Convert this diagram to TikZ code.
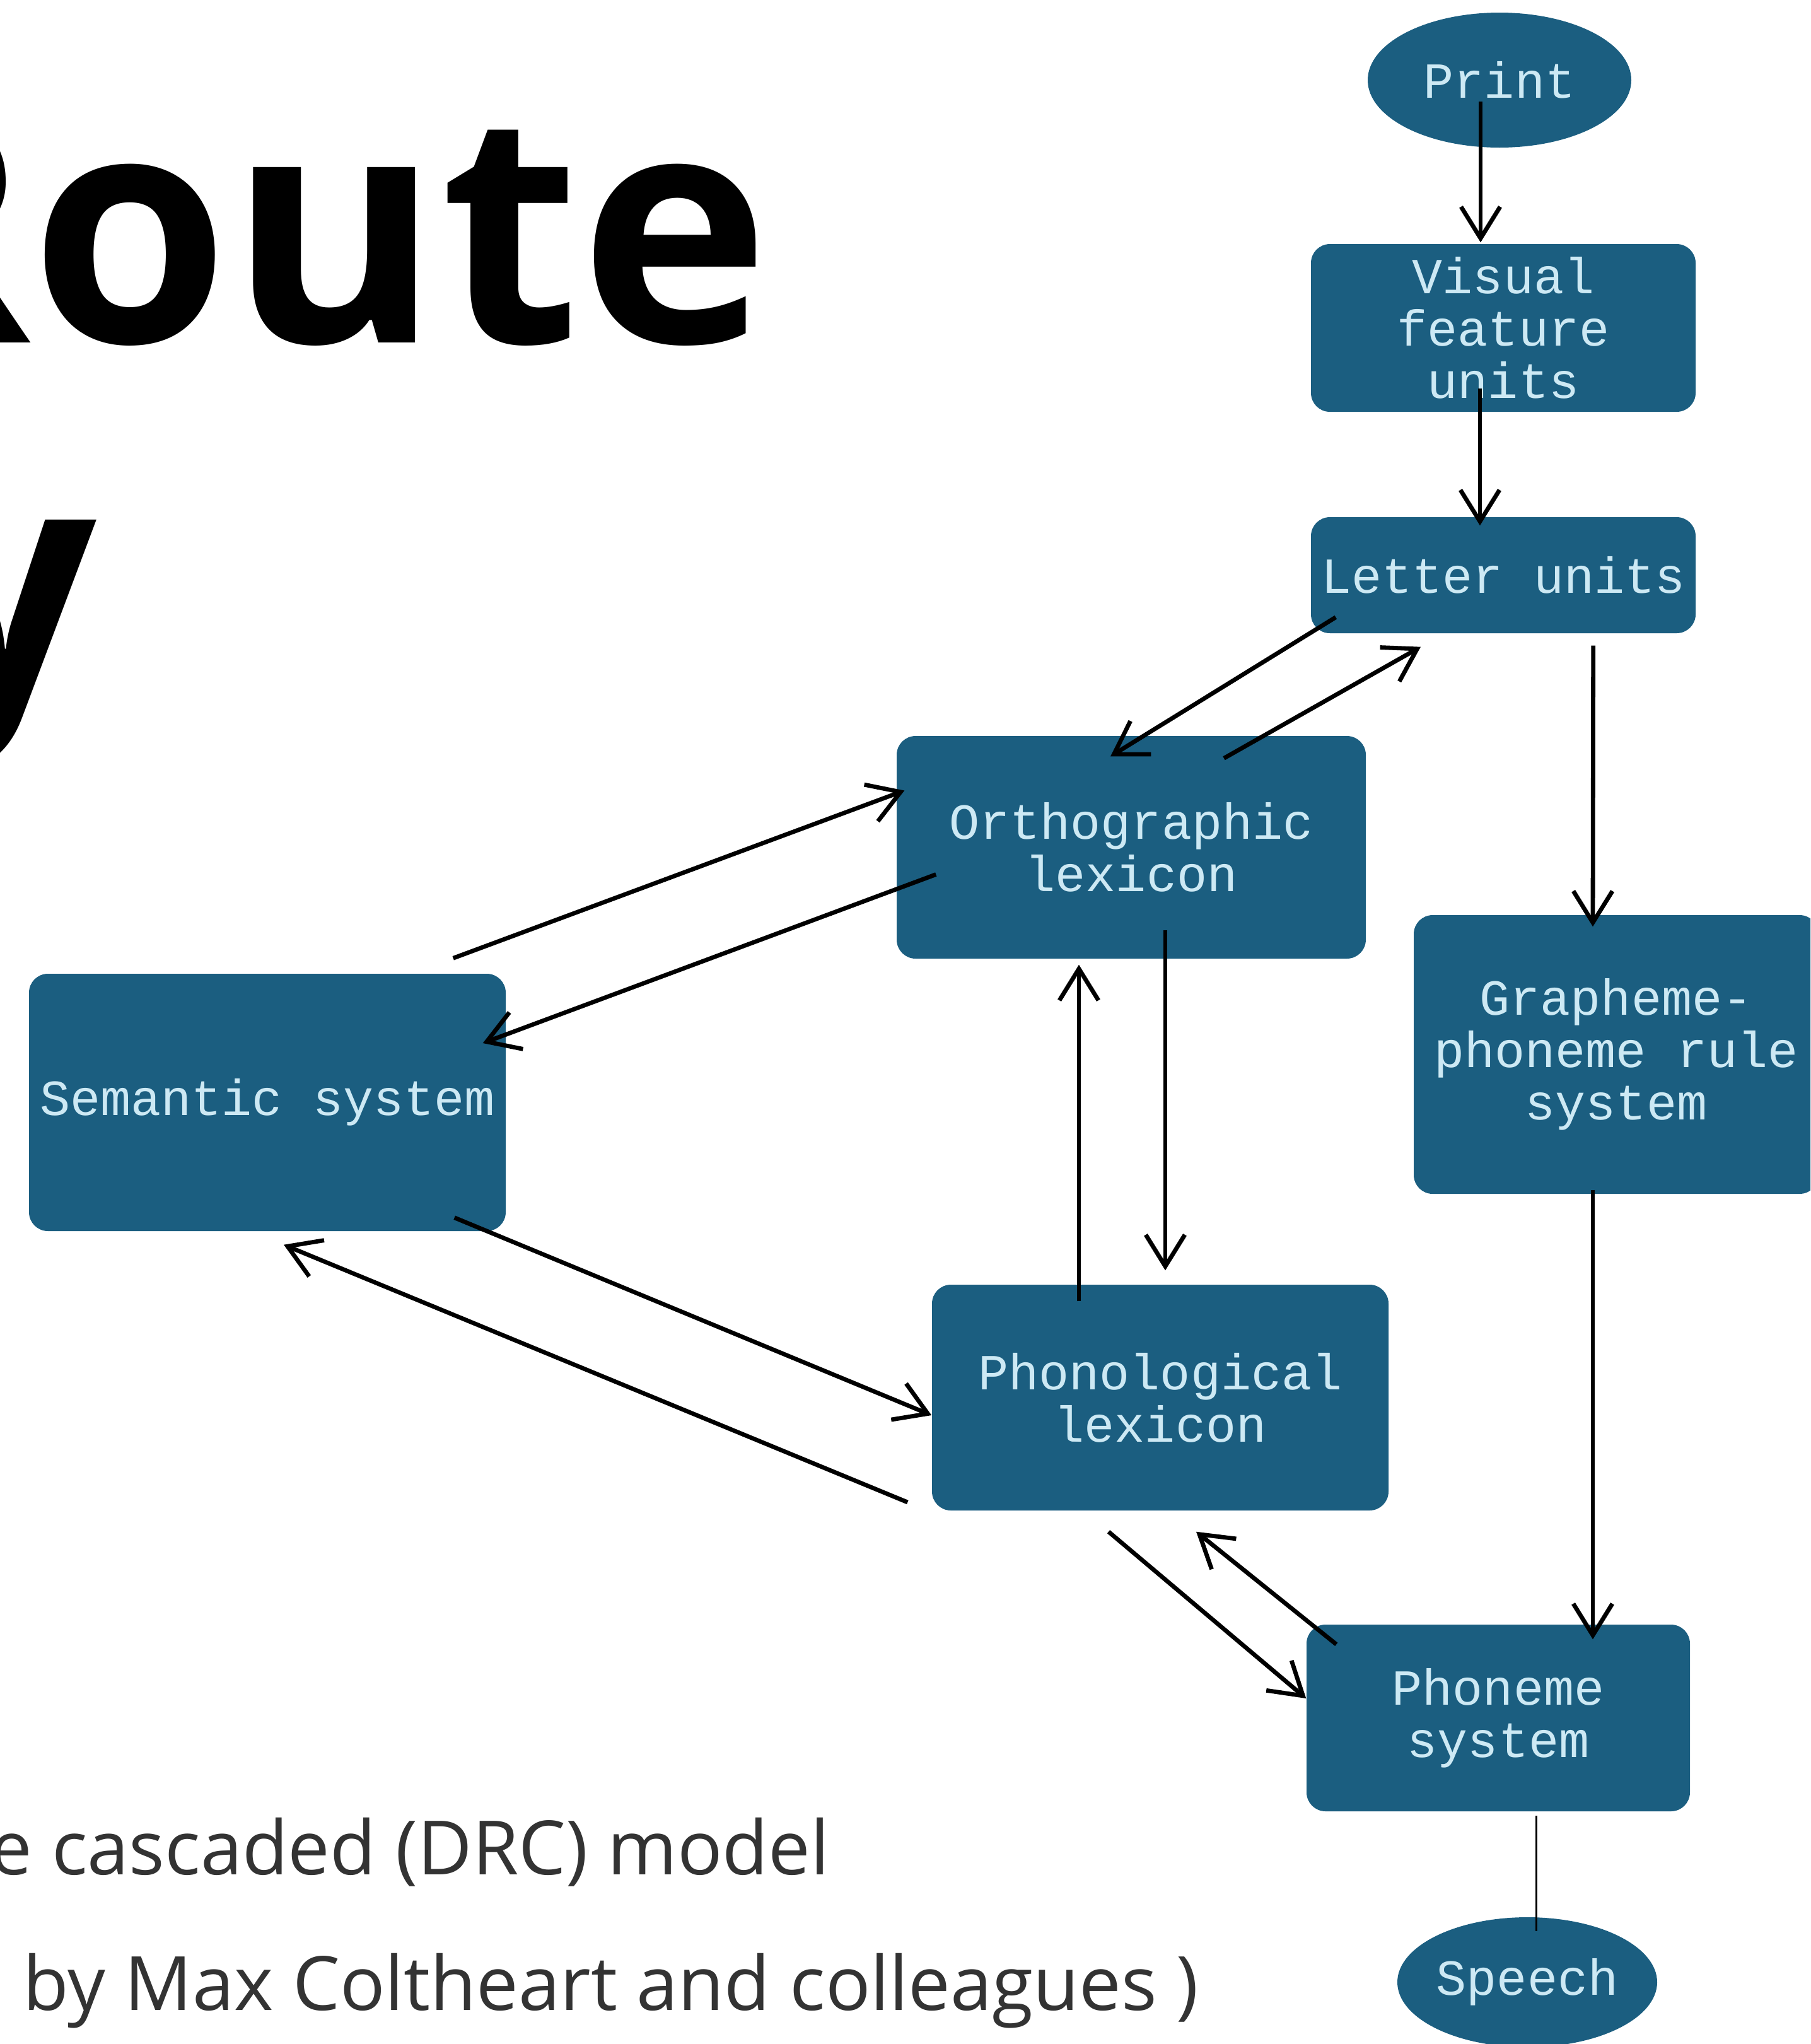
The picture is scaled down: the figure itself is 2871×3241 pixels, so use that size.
\documentclass[tikz,border=0pt]{standalone}
\usepackage{fontspec}
\usepackage{xcolor}
\usetikzlibrary{arrows.meta, shapes.geometric, calc, positioning}
\newfontfamily\unitfont{Liberation Mono}
\newfontfamily\slidefont{Open Sans}
\definecolor{unitblue}{HTML}{1B5E80}
\definecolor{unittext}{HTML}{CDE9F4}
\definecolor{slidegray}{HTML}{333333}
\tikzset{
  % Graph arrow style
  garr/.style={
    line width = 0.68mm
    , >={Straight Barb[length=5mm,width=6.2mm]}
  },
}
\tikzset{
  %model unit style
  unit/.style={
    fill=unitblue
    , text=unittext
    , font={\unitfont\fontsize{22.8}{23.6}\selectfont}
    , inner sep=0pt
    , anchor=center
    , align=center
    , rounded corners=3mm
  },
  %slide text style
  slide/.style={
    inner sep=0pt
    , text=slidegray
    , font={\slidefont\fontsize{33.8}{38}\selectfont}
  },
}

\begin{document}
\begin{tikzpicture}[x=0.1mm, y=-0.1mm]
      \clip (0,0) rectangle (2871,3241);
      \fill[white] (0,0) rectangle (2871,3241);

      % slide text
      \node[inner sep=0pt, anchor=base east, font={\slidefont\bfseries\fontsize{145}{150}\selectfont}] (ttl) at (1222,543) {Route};
      \node[inner sep=0pt, anchor=base east, font={\slidefont\bfseries\fontsize{145}{150}\selectfont}] (ttl2) at (154,1102) {y};
      \node[slide, anchor=base east] (cap1) at (1316,2972) {e cascaded (DRC) model};
      \node[slide, anchor=base west] (cap2) at (36,3187) {by Max Coltheart and colleagues )};

      % units
      \node[unit, ellipse, minimum width=41.8mm, minimum height=21.4mm] (print) at (2378,127) {Print};
      \node[unit, minimum width=61mm, minimum height=26.6mm] (vis) at (2384,520) {Visual\\feature\\units};
      \node[unit, minimum width=61mm, minimum height=18.4mm] (let) at (2384,912) {Letter units};
      \node[unit, minimum width=74.4mm, minimum height=35.3mm] (orth) at (1794,1343.5) {Orthographic\\lexicon};
      \node[unit, minimum width=64.2mm, minimum height=44.2mm] (gph) at (2563,1672) {Grapheme-\\phoneme rule\\system};
      \node[unit, minimum width=75.6mm, minimum height=40.8mm] (sem) at (424,1748) {Semantic system};
      \node[unit, minimum width=72.4mm, minimum height=35.8mm] (phon) at (1840,2216) {Phonological\\lexicon};
      \node[unit, minimum width=60.8mm, minimum height=29.6mm] (phm) at (2376,2724) {Phoneme\\system};
      \node[unit, ellipse, minimum width=41.2mm, minimum height=20.6mm] (speech) at (2422,3143) {Speech};

      \draw[garr,->] ([shift={(-30,34)}]print.center) -- ([shift={(-36,-2)}]vis.north);
      \draw[garr,->] ([shift={(-37,96)}]vis.center) -- ([shift={(-37,14)}]let.north);

      \draw[garr,->] ([shift={(40,-26)}]let.south west) -- ([shift={(-33,33)}]orth.north);
      \draw[garr,->] ([shift={(147,36)}]orth.north) -- ([shift={(-131,21)}]let.south);

      \draw[garr,->] ([shift={(-163,19)}]let.south east) -- ([shift={(-37,19)}]gph.north);
      \draw[garr,->] ([shift={(-37,-7)}]gph.south) -- ([shift={(150,24)}]phm.north);

      \draw[garr,->] ([shift={(-84,-24)}]sem.north east) -- ([shift={(13,-90)}]orth.west);
      \draw[garr,->] ([shift={(63,43)}]orth.west) -- ([shift={(-37,-94)}]sem.east);

      \draw[garr,->] ([shift={(-82,-22)}]sem.south east) -- ([shift={(0,28)}]phon.west);
      \draw[garr,->] ([shift={(-38,166)}]phon.west) -- ([shift={(26,21)}]sem.south);

      \draw[garr,->] ([shift={(54,131)}]orth.center) -- ([shift={(8,-22)}]phon.north);
      \draw[garr,->] ([shift={(-129,27)}]phon.north) -- ([shift={(-83,9)}]orth.south);

      \draw[garr,->] ([shift={(-82,33)}]phon.south) -- ([shift={(0,-31)}]phm.west);
      \draw[garr,->] ([shift={(48,32)}]phm.north west) -- ([shift={(57,33)}]phon.south);

      \draw[line width=0.3mm] ([shift={(60,6)}]phm.south) -- ([shift={(14,-81)}]speech.center);
    \end{tikzpicture}
\end{document}
